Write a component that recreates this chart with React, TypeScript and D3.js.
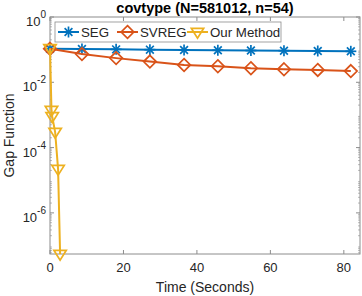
import React, { useRef, useEffect } from 'react';
import * as d3 from 'd3';

// readings from the reference picture
const segTime = [0, 8.7, 18.0, 27.2, 36.5, 45.7, 54.7, 63.7, 72.9, 81.9];
const segGap = [0.106, 0.104, 0.102, 0.1, 0.098, 0.096, 0.094, 0.093, 0.091, 0.089];
const svregTime = [0, 8.7, 18.0, 27.2, 36.5, 45.7, 54.7, 63.7, 72.9, 81.9];
const svregGap = [0.106, 0.073, 0.055, 0.043, 0.034, 0.031, 0.027, 0.025, 0.024, 0.022];
const oursTime = [0, 0.4, 0.6, 1.4, 2.2, 2.75];
const oursGap = [0.11, 1.4e-3, 9e-4, 3e-4, 2.2e-5, 5.5e-8];
const xTicks = [0, 20, 40, 60, 80];
const yTicks = [1, 1e-2, 1e-4, 1e-6];
const seriesNames = ['SEG', 'SVREG', 'Our Method'];

const App = () => {
  const svgRef = useRef<SVGSVGElement>(null);

  useEffect(() => {
    const width = 362;
    const height = 296;
    const margin = { top: 17, right: 2, bottom: 42, left: 50 };
    const font = 'Liberation Sans, Arial, sans-serif';
    const axisColor = '#8c8c8c';
    const textColor = '#262626';

    d3.select(svgRef.current).selectAll('*').remove();

    const svg = d3.select(svgRef.current)
      .attr('width', width)
      .attr('height', height)
      .style('position', 'absolute')
      .style('left', '0px')
      .style('top', '0px');

    const x = d3.scaleLinear()
      .domain([0, 84.4])
      .range([margin.left, width - margin.right]);

    const y = d3.scaleLog()
      .domain([5.5e-8, 1])
      .range([height - margin.bottom, margin.top]);

    const x0 = margin.left, x1 = width - margin.right;
    const y0 = height - margin.bottom, y1 = margin.top;

    // minor ticks on the log axis
    const minor: number[] = [];
    for (let e = -8; e < 0; e++) {
      for (let m = 2; m < 10; m++) {
        const v = m * Math.pow(10, e);
        if (v >= 5.5e-8 && v < 1) minor.push(v);
      }
    }
    const g = svg.append('g');
    minor.forEach(v => {
      g.append('line').attr('x1', x0).attr('x2', x0 + 2).attr('y1', y(v)).attr('y2', y(v)).attr('stroke', axisColor).attr('stroke-width', 0.6);
      g.append('line').attr('x1', x1).attr('x2', x1 - 2).attr('y1', y(v)).attr('y2', y(v)).attr('stroke', axisColor).attr('stroke-width', 0.6);
    });
    yTicks.forEach(v => {
      g.append('line').attr('x1', x0).attr('x2', x0 + 4).attr('y1', y(v)).attr('y2', y(v)).attr('stroke', axisColor);
      g.append('line').attr('x1', x1).attr('x2', x1 - 4).attr('y1', y(v)).attr('y2', y(v)).attr('stroke', axisColor);
      const t = g.append('text')
        .attr('x', x0 - 4)
        .attr('y', y(v) + 9)
        .attr('text-anchor', 'end')
        .attr('font-family', font)
        .attr('font-size', 13)
        .attr('fill', textColor);
      t.append('tspan').text('10');
      t.append('tspan').attr('dy', -8).attr('font-size', 10).text(String(Math.round(Math.log10(v))));
    });
    xTicks.forEach(v => {
      g.append('line').attr('x1', x(v)).attr('x2', x(v)).attr('y1', y0).attr('y2', y0 - 4).attr('stroke', axisColor);
      g.append('line').attr('x1', x(v)).attr('x2', x(v)).attr('y1', y1).attr('y2', y1 + 4).attr('stroke', axisColor);
      g.append('text')
        .attr('x', x(v))
        .attr('y', y0 + 18)
        .attr('text-anchor', 'middle')
        .attr('font-family', font)
        .attr('font-size', 13)
        .attr('fill', textColor)
        .text(v);
    });

    g.append('rect')
      .attr('x', x0).attr('y', y1)
      .attr('width', x1 - x0).attr('height', y0 - y1)
      .attr('fill', 'none').attr('stroke', axisColor).attr('stroke-width', 1);

    // markers
    const drawStar = (sel: any, cx: number, cy: number, c: string) => {
      const r = 5.5;
      for (let k = 0; k < 4; k++) {
        const a = (k * Math.PI) / 4;
        sel.append('line')
          .attr('x1', cx - r * Math.cos(a)).attr('y1', cy - r * Math.sin(a))
          .attr('x2', cx + r * Math.cos(a)).attr('y2', cy + r * Math.sin(a))
          .attr('stroke', c).attr('stroke-width', 1.7);
      }
    };
    const drawDiamond = (sel: any, cx: number, cy: number, c: string) => {
      const r = 6.3;
      sel.append('path')
        .attr('d', `M${cx},${cy - r}L${cx + r},${cy}L${cx},${cy + r}L${cx - r},${cy}Z`)
        .attr('fill', 'none').attr('stroke', c).attr('stroke-width', 1.7);
    };
    const drawTri = (sel: any, cx: number, cy: number, c: string) => {
      const r = 6.2;
      sel.append('path')
        .attr('d', `M${cx - r},${cy - r * 0.6}L${cx + r},${cy - r * 0.6}L${cx},${cy + r}Z`)
        .attr('fill', 'none').attr('stroke', c).attr('stroke-width', 1.7);
    };

    const series = [
      { name: seriesNames[0], t: segTime, v: segGap, color: '#0072BD', marker: drawStar },
      { name: seriesNames[1], t: svregTime, v: svregGap, color: '#D95319', marker: drawDiamond },
      { name: seriesNames[2], t: oursTime, v: oursGap, color: '#EDB120', marker: drawTri },
    ];

    const line = d3.line<[number, number]>()
      .x(d => x(d[0]))
      .y(d => y(d[1]));

    series.forEach(s => {
      const pts: [number, number][] = s.t.map((t, i) => [t, s.v[i]]);
      svg.append('path')
        .attr('d', line(pts))
        .attr('fill', 'none')
        .attr('stroke', s.color)
        .attr('stroke-width', 2);
      const mg = svg.append('g');
      pts.forEach(p => s.marker(mg, x(p[0]), y(p[1]), s.color));
    });

    // legend
    const legend = svg.append('g');
    legend.append('rect')
      .attr('x', 55).attr('y', 22).attr('width', 226).attr('height', 20)
      .attr('fill', 'white').attr('stroke', axisColor).attr('stroke-width', 0.8);
    const lx = [58, 117, 187];
    series.forEach((s, i) => {
      legend.append('line')
        .attr('x1', lx[i]).attr('x2', lx[i] + 21)
        .attr('y1', 32).attr('y2', 32)
        .attr('stroke', s.color).attr('stroke-width', 2);
      s.marker(legend, lx[i] + 10.5, 32, s.color);
      legend.append('text')
        .attr('x', lx[i] + 23)
        .attr('y', 36.5)
        .attr('font-family', font)
        .attr('font-size', 13.3)
        .attr('fill', textColor)
        .text(s.name);
    });

    // title and labels
    svg.append('text')
      .attr('x', (x0 + x1) / 2).attr('y', 13)
      .attr('text-anchor', 'middle')
      .attr('font-family', font).attr('font-size', 14.5).attr('font-weight', 'bold')
      .attr('fill', '#000')
      .text('covtype (N=581012, n=54)');
    svg.append('text')
      .attr('x', (x0 + x1) / 2).attr('y', 292)
      .attr('text-anchor', 'middle')
      .attr('font-family', font).attr('font-size', 14)
      .attr('fill', textColor)
      .text('Time (Seconds)');
    svg.append('text')
      .attr('transform', `translate(14,${(y0 + y1) / 2}) rotate(-90)`)
      .attr('text-anchor', 'middle')
      .attr('font-family', font).attr('font-size', 14)
      .attr('fill', textColor)
      .text('Gap Function');
  }, []);

  return <svg ref={svgRef}></svg>;
};

export default App;
